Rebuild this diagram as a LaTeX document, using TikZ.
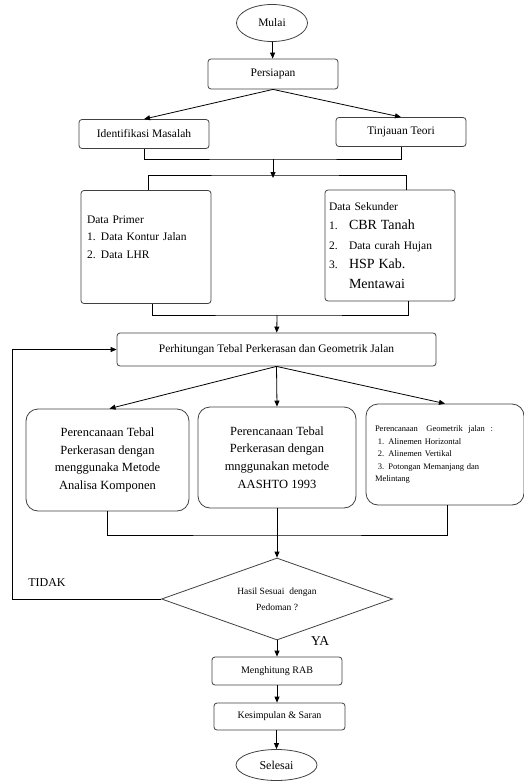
\documentclass[tikz,border=0pt]{standalone}
\usepackage{fontspec}
\setmainfont{Liberation Serif}
\usepackage{tikz}
\usetikzlibrary{arrows.meta,positioning,shapes.geometric}

\begin{document}
\begin{tikzpicture}[x=1pt, y=-1pt,
  kotak/.style={draw=black!75, line width=0.8pt, rounded corners=3pt, align=center, font=\fontsize{11.5}{13.5}\selectfont},
  besar/.style={draw=black!75, line width=0.8pt, rounded corners=12pt, align=center, font=\fontsize{12.5}{17.7}\selectfont},
  bulat/.style={draw=black!75, line width=0.8pt, ellipse, inner sep=0pt, font=\fontsize{11.5}{13.5}\selectfont},
  keputusan/.style={draw=black!75, line width=0.8pt, diamond, aspect=2.8, inner sep=0pt, align=center, font=\fontsize{9.5}{16}\selectfont},
  garis/.style={line width=0.8pt, black},
  panah/.style={-{Triangle[length=6pt,width=5pt]}, line width=0.8pt, black}]
\useasboundingbox (0,0) rectangle (524,781);
\node[bulat, minimum width=71, minimum height=37] (mulai) at (272,23) {Mulai};
\node[kotak, minimum width=130, minimum height=30] (persiapan) at (273,74) {Persiapan};
\node[kotak, minimum width=130, minimum height=29] (identifikasi) at (144,134) {Identifikasi Masalah};
\node[kotak, minimum width=130, minimum height=29] (tinjauan) at (401,132) {Tinjauan Teori};
\node[kotak, minimum width=130, minimum height=113, text width=118, align=left, font=\fontsize{11.5}{17.5}\selectfont] (primer) at (146,247)
  {Data Primer\\\makebox[14pt][l]{1.}Data Kontur Jalan\\\makebox[14pt][l]{2.}Data LHR\\[3pt]\mbox{}};
\node[kotak, minimum width=130, minimum height=111, text width=122, align=left, font=\fontsize{11.5}{19.5}\selectfont] (sekunder) at (390,245.5)
  {Data Sekunder\\
   \makebox[20pt][l]{1.}{\fontsize{14}{19.5}\selectfont CBR Tanah}\\
   \makebox[20pt][l]{2.}Data curah Hujan\\
   \makebox[20pt][l]{3.}{\fontsize{14}{19.5}\selectfont HSP Kab.}\\
   \hspace*{20pt}{\fontsize{14}{19.5}\selectfont Mentawai}};
\node[kotak, minimum width=319, minimum height=33] (hitung) at (276.5,349.5) {Perhitungan Tebal Perkerasan dan Geometrik Jalan};
\node[besar, minimum width=163, minimum height=102] (analisa) at (107.5,460)
  {Perencanaan Tebal\\Perkerasan dengan\\menggunaka Metode\\Analisa Komponen};
\node[besar, minimum width=158, minimum height=101] (aashto) at (277,457.5)
  {Perencanaan Tebal\\Perkerasan dengan\\mnggunakan metode\\AASHTO 1993};
\node[besar, minimum width=158, minimum height=101, text width=140, align=left, font=\fontsize{8.5}{12.5}\selectfont] (geometrik) at (445,454.5)
  {Perencanaan\ \ \ Geometrik\ \ jalan\ \ :\\
   \ 1. Alinemen Horizontal\\
   \ 2. Alinemen Vertikal\\
   \ 3. Potongan Memanjang dan\\
   Melintang};
\node[keputusan, minimum width=231, minimum height=82] (cek) at (277,599) {Hasil Sesuai\ \ dengan\\Pedoman ?};
\node[kotak, minimum width=130, minimum height=28, font=\fontsize{10}{12}\selectfont] (rab) at (277,671) {Menghitung RAB};
\node[kotak, minimum width=131, minimum height=27, font=\fontsize{10}{12}\selectfont] (simpulan) at (279.5,716.5) {Kesimpulan \& Saran};
\node[bulat, minimum width=81, minimum height=31, font=\fontsize{12}{14}\selectfont] (selesai) at (276.5,765) {Selesai};
\node[font=\fontsize{12}{14}\selectfont] (tidak) at (47,583) {TIDAK};
\node[font=\fontsize{13.5}{15}\selectfont] (ya) at (320,641) {YA};
\coordinate (gabung1) at (273,159);
\coordinate (cabang1) at (273,175);
\coordinate (gabung2) at (277,315);
\coordinate (gabung3) at (277,535);
\draw[panah] (mulai) -- (persiapan);
\draw[panah] (persiapan.south) -- (identifikasi.north);
\draw[panah] (persiapan.south) -- (tinjauan.north);
\draw[garis] (identifikasi.south) |- (gabung1) -| (tinjauan.south);
\draw[panah] (gabung1) -- ([yshift=-3]cabang1);
\draw[garis] ([xshift=2]primer.north) |- (cabang1) -| ([xshift=16]sekunder.north);
\draw[garis] ([xshift=6]primer.south) |- (gabung2) -| ([xshift=18]sekunder.south);
\draw[panah] (gabung2) -- (hitung);
\draw[panah] (hitung.south) -- ([xshift=2]analisa.north);
\draw[panah] (hitung.south) -- (aashto.north);
\draw[panah] (hitung.south) -- (geometrik.north);
\draw[garis] (analisa.south) |- (gabung3) -| ([xshift=2]geometrik.south);
\draw[panah] (aashto.south) -- (cek.north);
\draw[panah] (cek.west) -- ++(-149,0) |- (hitung.west);
\draw[panah] (cek.south) -- (rab.north);
\draw[panah] (rab.south) -- (rab.south |- simpulan.north);
\draw[panah] (selesai.north |- simpulan.south) -- (selesai.north);
\end{tikzpicture}
\end{document}
